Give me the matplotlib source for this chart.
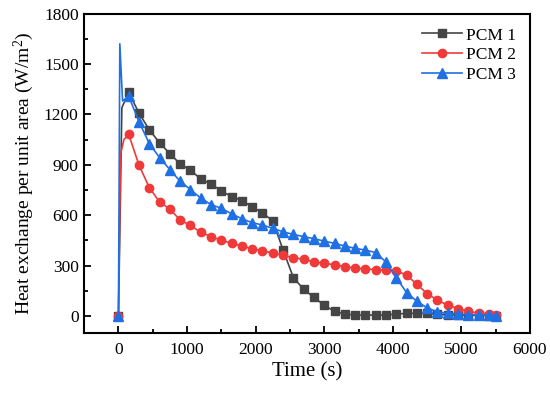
import matplotlib
matplotlib.use("Agg")
import matplotlib.pyplot as plt
from matplotlib.ticker import MultipleLocator

plt.rcParams['font.family'] = ['Liberation Serif', 'DejaVu Serif']
plt.rcParams['mathtext.fontset'] = 'custom'
plt.rcParams['mathtext.rm'] = 'Liberation Serif'
plt.rcParams['mathtext.it'] = 'Liberation Serif:italic'

# Marker times (s): every 150 s up to 5400, plus 5500
t_marks = list(range(0, 5401, 150)) + [5500]

pcm1_vals = [0, 1330, 1207, 1108, 1030, 966, 904, 867, 815, 785, 744, 710, 687, 649,
             614, 565, 393, 228, 159, 110, 64, 27, 11, 5, 5, 5, 5, 11, 15, 15, 15,
             10, 6, 5, 4, 3, 2, 1]
pcm2_vals = [0, 1080, 897, 764, 678, 636, 570, 539, 497, 472, 451, 432, 416, 400,
             388, 374, 360, 347, 337, 321, 313, 305, 294, 284, 281, 274, 273, 268,
             244, 188, 133, 94, 64, 44, 27, 17, 11, 7]
pcm3_vals = [0, 1308, 1155, 1026, 942, 871, 801, 752, 701, 663, 640, 608, 578, 555,
             541, 521, 501, 485, 472, 460, 445, 432, 416, 402, 392, 377, 321, 228,
             139, 88, 48, 24, 15, 11, 7, 5, 5, 2]

# Early transient points (line only, no marker)
pcm1_early_t = [50]
pcm1_early_v = [1240]
pcm2_early_t = [30, 80]
pcm2_early_v = [960, 1050]
pcm3_early_t = [20, 60]
pcm3_early_v = [1620, 1280]

labels = ['PCM 1', 'PCM 2', 'PCM 3']
colors = ['#454545', '#f03a3a', '#2070e3']
markers = ['s', 'o', '^']
msizes = [5.5, 6, 6.5]


def build(vals, et, ev):
    t = [t_marks[0]] + et + t_marks[1:]
    v = [vals[0]] + ev + vals[1:]
    mk = [0] + list(range(len(et) + 1, len(t)))
    return t, v, mk


fig = plt.figure(figsize=(5.5, 3.93), dpi=100)
ax = fig.add_axes([0.153, 0.1534, 0.8106, 0.8122])

series = [(pcm1_vals, pcm1_early_t, pcm1_early_v),
          (pcm2_vals, pcm2_early_t, pcm2_early_v),
          (pcm3_vals, pcm3_early_t, pcm3_early_v)]
for (vals, et, ev), lab, c, m, ms in zip(series, labels, colors, markers, msizes):
    t, v, mk = build(vals, et, ev)
    ax.plot(t, v, color=c, marker=m, markersize=ms, markevery=mk,
            linewidth=1.2, label=lab)

ax.set_xlim(-500, 6000)
ax.set_ylim(-100, 1800)
ax.xaxis.set_major_locator(MultipleLocator(1000))
ax.xaxis.set_minor_locator(MultipleLocator(500))
ax.yaxis.set_major_locator(MultipleLocator(300))
ax.yaxis.set_minor_locator(MultipleLocator(150))
ax.tick_params(which='both', direction='in', top=False, right=False,
               labelsize=12.5, width=1.3)
ax.tick_params(which='major', length=5)
ax.tick_params(which='minor', length=3)
ax.tick_params(axis='x', which='major', pad=7)
ax.tick_params(axis='y', which='major', pad=4)
for s in ax.spines.values():
    s.set_linewidth(1.5)

ax.set_xlabel('Time (s)', fontsize=15, labelpad=3)
ax.set_ylabel('Heat exchange per unit area (W/m$^{2}$)', fontsize=14, labelpad=6)

leg = ax.legend(loc='upper right', frameon=False, fontsize=12.5,
                handlelength=2.3, handletextpad=0.25, labelspacing=0.2,
                borderaxespad=0.4)

fig.savefig('out.png', dpi=100)
